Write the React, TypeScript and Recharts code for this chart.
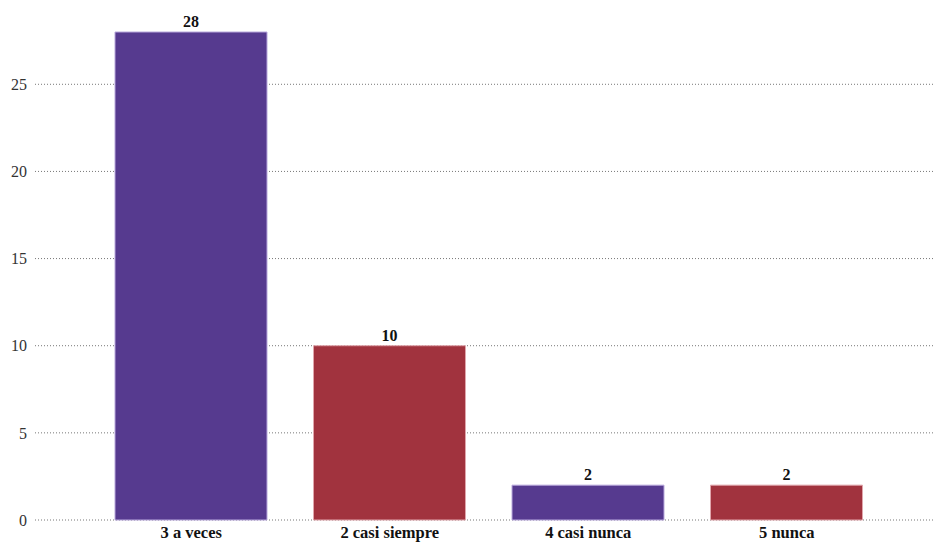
import { BarChart, Bar, XAxis, YAxis, CartesianGrid, LabelList, Cell } from 'recharts';

const categories = ['3 a veces', '2 casi siempre', '4 casi nunca', '5 nunca'];
const counts = [28, 10, 2, 2];
const yTicks = [0, 5, 10, 15, 20, 25];
const barColors = ['#563a8f', '#a1333e'];
const barStrokes = ['#b8a8dc', '#e0a6ac'];

const data = categories.map((name, i) => ({ name, value: counts[i] }));

const serif = '"Liberation Serif", "Times New Roman", serif';

export default function App() {
  return (
    <div style={{ position: 'absolute', left: 0, top: 0, fontFamily: serif }}>
      <style>{`.recharts-wrapper text { font-family: "Liberation Serif", "Times New Roman", serif !important; }`}</style>
      <BarChart
        width={934}
        height={542}
        data={data}
        margin={{ top: 32, right: 0, bottom: 0, left: 0 }}
        style={{ overflow: 'visible' }}
      >
        <CartesianGrid vertical={false} stroke="#777" strokeDasharray="1 2" syncWithTicks />
        <XAxis
          dataKey="name"
          axisLine={false}
          tickLine={false}
          height={22}
          interval={0}
          tickMargin={0}
          padding={{ left: 57, right: 48 }}
          tick={{ fontSize: 16.5, fontWeight: 'bold', fill: '#111' }}
        />
        <YAxis
          width={35}
          domain={[0, 28]}
          ticks={yTicks}
          axisLine={false}
          tickLine={false}
          tick={{ fontSize: 16, fill: '#333' }}
        />
        <Bar dataKey="value" barSize={152} isAnimationActive={false}>
          {data.map((d, i) => (
            <Cell key={d.name} fill={barColors[i % 2]} stroke={barStrokes[i % 2]} strokeWidth={1} />
          ))}
          <LabelList
            dataKey="value"
            position="top"
            style={{ fontSize: 16, fontWeight: 'bold', fill: '#111' }}
          />
        </Bar>
      </BarChart>
    </div>
  );
}
